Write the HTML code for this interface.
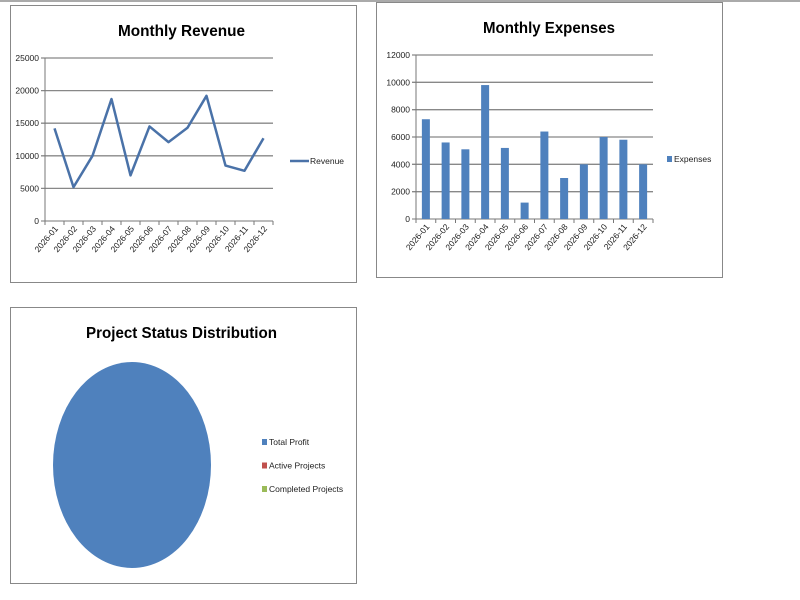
<!DOCTYPE html>
<html><head><meta charset="utf-8"><style>
body{margin:0;background:#fff;width:800px;height:600px;overflow:hidden;font-family:"Liberation Sans",sans-serif}
svg{position:absolute;left:0;top:0}
</style></head><body>
<svg id="c" width="800" height="600">
<line x1="0" y1="1" x2="800" y2="1" stroke="#aaa" stroke-width="2"/>
<rect x="10.5" y="5.5" width="346" height="277" fill="#fff" stroke="#888"/>
<rect x="376.5" y="2.5" width="346" height="275" fill="#fff" stroke="#888"/>
<rect x="10.5" y="307.5" width="346" height="276" fill="#fff" stroke="#888"/>
<text x="118" y="36" textLength="127" lengthAdjust="spacingAndGlyphs" font-size="16" font-weight="bold">Monthly Revenue</text>
<text x="483" y="33" textLength="132" lengthAdjust="spacingAndGlyphs" font-size="16" font-weight="bold">Monthly Expenses</text>
<text x="86" y="338" textLength="191" lengthAdjust="spacingAndGlyphs" font-size="16" font-weight="bold">Project Status Distribution</text>
<g id="rev"></g><g id="exp"></g><g id="pie"></g>
</svg>
<script>
const months=["2026-01","2026-02","2026-03","2026-04","2026-05","2026-06","2026-07","2026-08","2026-09","2026-10","2026-11","2026-12"];
const revenue=[14200,5200,10000,18700,7000,14500,12100,14300,19200,8500,7700,12700];
const revTicks=[0,5000,10000,15000,20000,25000];
const expenses=[7300,5600,5100,9800,5200,1200,6400,3000,4000,6000,5800,4000];
const expTicks=[0,2000,4000,6000,8000,10000,12000];
const pieLabels=["Total Profit","Active Projects","Completed Projects"];
const pieValues=[100,0,0];
const pieColors=["#4f81bd","#c0504d","#9bbb59"];
const NS="http://www.w3.org/2000/svg";
function mk(p,t,a){const e=document.createElementNS(NS,t);for(const k in a)e.setAttribute(k,a[k]);p.appendChild(e);return e;}
function axes(g,x0,x1,y0,y1,max,ticks,prefix){
  const ys=v=>y0-(v/max)*(y0-y1);
  const bw=(x1-x0)/months.length;
  ticks.forEach(t=>{
    const l=mk(g,'line',{x1:x0-4,x2:x1,y1:ys(t),y2:ys(t),stroke:t===0?'#777':'#888','stroke-width':t===0?1:1.3});
    
    
    const tx=mk(g,'text',{x:x0-6,y:ys(t)+3,'text-anchor':'end','font-size':8.5,fill:'#222'});
    tx.textContent=t;
    
    
  });
  const ax=mk(g,'line',{x1:x0,x2:x0,y1:y1,y2:y0,stroke:'#777'});
  
  
  months.forEach((m,i)=>{
    mk(g,'line',{x1:x0+i*bw,x2:x0+i*bw,y1:y0,y2:y0+4,stroke:'#777'});
    const cx=x0+(i+0.5)*bw+4;
    const tx=mk(g,'text',{x:cx,y:y0+8,'text-anchor':'end','font-size':8.5,fill:'#222',transform:`rotate(-50 ${cx} ${y0+8})`});
    tx.textContent=m;
    
    
  });
  mk(g,'line',{x1:x1,x2:x1,y1:y0,y2:y0+4,stroke:'#777'});
  return {ys,bw};
}
(function(){
  const g=document.getElementById('rev');
  const x0=45,x1=273,y0=221,y1=58;
  const {ys,bw}=axes(g,x0,x1,y0,y1,25000,revTicks,'revenue');
  const pts=revenue.map((v,i)=>(x0+(i+0.5)*bw)+','+ys(v)).join(' ');
  const pl=mk(g,'polyline',{points:pts,fill:'none',stroke:'#4a72a8','stroke-width':2.5,'stroke-linejoin':'round'});
  
  
  const lg=mk(g,'line',{x1:290,x2:309,y1:161,y2:161,stroke:'#4a72a8','stroke-width':2.5});
  
  
  const lt=mk(g,'text',{x:310,y:164,'font-size':8.5,fill:'#222'});
  lt.textContent='Revenue';
  
  
})();
(function(){
  const g=document.getElementById('exp');
  const x0=416,x1=653,y0=219,y1=55;
  const {ys,bw}=axes(g,x0,x1,y0,y1,12000,expTicks,'expenses');
  expenses.forEach((v,i)=>{
    const r=mk(g,'rect',{x:x0+(i+0.5)*bw-4,y:ys(v),width:8,height:y0-ys(v),fill:'#4f81bd'});
    
    
  });
  const sw=mk(g,'rect',{x:667,y:156,width:5,height:6,fill:'#4f81bd'});
  
  
  const lt=mk(g,'text',{x:674,y:162,'font-size':8.5,fill:'#222'});
  lt.textContent='Expenses';
  
  
})();
(function(){
  const g=document.getElementById('pie');
  const cx=132,cy=465,rx=79,ry=103;
  const total=pieValues.reduce((a,b)=>a+b,0);
  let a=-Math.PI/2;
  pieValues.forEach((v,i)=>{
    if(v<=0)return;
    const frac=v/total;
    let el;
    if(frac>=0.9999){el=mk(g,'ellipse',{cx,cy,rx,ry,fill:pieColors[i]});}
    else{
      const a2=a+frac*2*Math.PI;
      const p1=[cx+rx*Math.cos(a),cy+ry*Math.sin(a)],p2=[cx+rx*Math.cos(a2),cy+ry*Math.sin(a2)];
      el=mk(g,'path',{d:`M${cx},${cy}L${p1}A${rx},${ry} 0 ${frac>0.5?1:0} 1 ${p2}Z`,fill:pieColors[i]});
      a=a2;
    }
    
    
  });
  pieLabels.forEach((l,i)=>{
    const y=442+i*23.5;
    const sw=mk(g,'rect',{x:262,y:y-3,width:5,height:6,fill:pieColors[i]});
    
    
    const t=mk(g,'text',{x:269,y:y+3,'font-size':8.5,fill:'#222'});
    t.textContent=l;
    
    
  });
})();
</script>
</body></html>
